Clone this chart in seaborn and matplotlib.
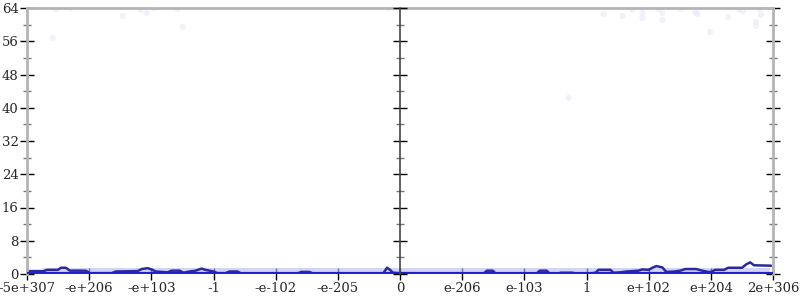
import matplotlib
matplotlib.use("Agg")
import matplotlib.pyplot as plt
import seaborn as sns
import numpy as np
import pandas as pd
from matplotlib.ticker import MultipleLocator

# ---- data ----
tick_labels = ["-5e+307", "-e+206", "-e+103", "-1", "-e-102", "-e-205", "0",
               "e-206", "e-103", "1", "e+102", "e+204", "2e+306"]
tick_pos = list(range(-6, 7))

# pixel-read positions of the count curve (converted to tick units below)
curve_px = [27, 44, 47, 58, 61, 66, 70, 86, 90, 112, 116, 138, 142, 148, 152, 156,
            168, 172, 180, 184, 190, 196, 202, 206, 210, 214, 218, 226, 230, 238,
            242, 298, 302, 310, 314, 384, 388, 391, 394, 401,
            485, 488, 494, 497, 538, 541, 548, 551, 560, 562, 574, 577, 590, 597,
            600, 612, 615, 622, 628, 640, 644, 650, 655, 658, 664, 668, 676, 682,
            687, 698, 704, 710, 713, 717, 726, 730, 744, 748, 752, 756, 773]
curve_val = [0.7, 0.7, 1.0, 1.0, 1.5, 1.5, 0.8, 0.8, 0.2, 0.2, 0.6, 0.7, 1.2, 1.4, 1.1, 0.6,
             0.4, 0.8, 0.8, 0.3, 0.6, 0.8, 1.3, 1.0, 0.8, 0.6, 0.2, 0.2, 0.6, 0.6,
             0.1, 0.1, 0.5, 0.5, 0.1, 0.1, 1.5, 1.0, 0.3, 0.2,
             0.1, 0.8, 0.8, 0.1, 0.1, 0.8, 0.8, 0.1, 0.1, 0.3, 0.3, 0.1, 0.1, 0.3,
             1.0, 1.0, 0.3, 0.4, 0.6, 0.8, 1.1, 1.0, 1.6, 1.9, 1.6, 0.5, 0.6, 0.8,
             1.2, 1.2, 0.8, 0.5, 0.5, 1.0, 1.0, 1.5, 1.5, 2.3, 2.8, 2.1, 2.0]

# faint scattered samples (pixel coords)
dots_px_x = [56, 71, 123, 141, 147, 154, 178, 183, 53, 605, 624, 634, 644, 644, 660,
             664, 664, 683, 697, 699, 712, 730, 741, 745, 758, 758, 763, 762, 570, 390]
dots_px_y = [9, 8, 16, 10, 13, 8, 9, 27, 38, 14, 16, 10, 13, 18, 9,
             13, 20, 9, 12, 14, 32, 17, 10, 11, 22, 26, 15, 9, 98, 8]

band_x = [-5.75, 5.95]
band_top = [1.4, 1.4]

# ---- convert ----
def px_to_x(p):
    return (np.asarray(p) - 401.0) / 62.33

def py_to_y(p):
    return (274.0 - np.asarray(p)) / 4.156

df_curve = pd.DataFrame({"x": px_to_x(curve_px), "y": curve_val})
df_dots = pd.DataFrame({"x": px_to_x(dots_px_x), "y": py_to_y(dots_px_y)})

sns.set_style("white")
plt.rcParams["font.family"] = ["DejaVu Serif"]

fig = plt.figure(figsize=(8, 3), dpi=100)
ax = fig.add_axes([27 / 800, 1 - 274 / 300, 746 / 800, 266 / 300])

ax.fill_between(band_x, 0, band_top, color="#b8b8f4", alpha=0.6, lw=0)
sns.scatterplot(data=df_dots, x="x", y="y", ax=ax, color="#e2e2f6", s=20,
                edgecolor="none", alpha=0.45, legend=False)
sns.lineplot(data=df_curve, x="x", y="y", ax=ax, color="#2a2a9c", lw=1.8,
             legend=False)
ax.axhline(0, color="#2222cc", lw=3, zorder=5)

ax.set_xlim(-6, 6)
ax.set_ylim(0, 64)
ax.set_xticks(tick_pos)
ax.set_xticklabels(tick_labels, fontsize=9.5)
ax.yaxis.set_major_locator(MultipleLocator(8))
ax.yaxis.set_minor_locator(MultipleLocator(4))
ax.set_xlabel("")
ax.set_ylabel("")
ax.tick_params(axis="y", which="major", direction="inout", length=10, width=1,
               color="black", left=True, right=True, labelsize=9.5, pad=1)
ax.tick_params(axis="y", which="minor", direction="inout", length=6, width=1,
               color="#777777", left=True, right=True)
ax.tick_params(axis="x", which="major", direction="inout", length=8, width=1,
               color="black", bottom=True, labelsize=9.5, pad=2)
for s in ["left", "right", "top"]:
    ax.spines[s].set_color("#b4b4b4")
    ax.spines[s].set_linewidth(2)
ax.spines["bottom"].set_visible(False)

# central axis at 0
ax2 = fig.add_axes(ax.get_position(), sharey=ax)
ax2.set_xlim(-6, 6)
ax2.patch.set_visible(False)
ax2.spines["left"].set_visible(True)
ax2.spines["left"].set_position(("data", 0))
ax2.spines["left"].set_color("#444444")
ax2.spines["left"].set_linewidth(1.2)
ax2.tick_params(axis="y", which="major", direction="inout", length=10, width=1,
                color="black", labelleft=False, left=True, right=False)
ax2.tick_params(axis="y", which="minor", direction="inout", length=6, width=1,
                color="#777777", left=True, right=False)
ax2.set_xticks([])
for s in ["right", "top", "bottom"]:
    ax2.spines[s].set_visible(False)

fig.savefig("out.png", dpi=100)
